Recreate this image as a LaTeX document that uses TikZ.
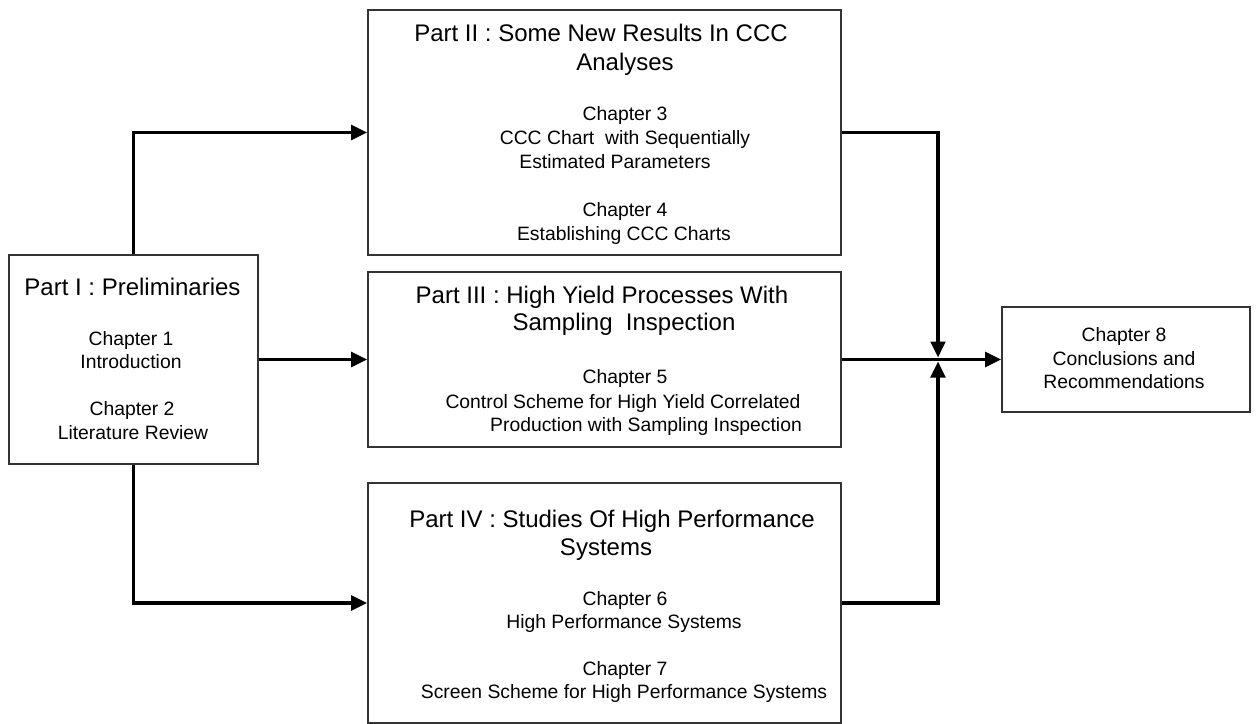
\documentclass[tikz,border=0pt]{standalone}
\usepackage{fontspec}
\setmainfont{Liberation Sans}
\usetikzlibrary{arrows.meta}
\definecolor{boxgray}{HTML}{333333}
\begin{document}
\begin{tikzpicture}[x=0.75pt,y=-0.75pt,
  box/.style={draw=boxgray,line width=1.3pt,inner sep=0pt,fill=white},
  conn/.style={line width=2.4pt,-{Triangle[length=12pt,width=11pt]}},
  ttl/.style={anchor=base,inner sep=0pt,font=\fontsize{18}{21}\selectfont},
  chp/.style={anchor=base,inner sep=0pt,font=\fontsize{14.5}{18}\selectfont}]
\useasboundingbox (0,0) rectangle (1256,724);
% boxes
\node[box,minimum width=186.75pt,minimum height=156.75pt] (I) at (133.5,359.5) {};
\node[box,minimum width=354.75pt,minimum height=183.75pt] (II) at (604.5,132.5) {};
\node[box,minimum width=354.75pt,minimum height=131.25pt] (III) at (604.5,359.5) {};
\node[box,minimum width=354.75pt,minimum height=180pt] (IV) at (604.5,603) {};
\node[box,minimum width=186pt,minimum height=78.75pt] (C8) at (1126,359.5) {};
\coordinate (j) at (938,359.5);
% connectors
\draw[conn] (I.north) |- (II.west);
\draw[conn] (I.east) -- (III.west);
\draw[conn] (I.south) |- (IV.west);
\draw[conn,shorten >=1.5pt] (II.east) -| (j);
\draw[conn,shorten >=1.5pt] (IV.east) -| (j);
\draw[conn] (III.east) -- (C8.west);
% Part I
\node[ttl] (tIa) at (132.5,295) {Part I : Preliminaries};
\node[chp] (tIb) at (131,345) {Chapter 1};
\node[chp] (tIc) at (131,368) {Introduction};
\node[chp] (tId) at (132,415) {Chapter 2};
\node[chp] (tIe) at (133,439) {Literature Review};
% Part II
\node[ttl] (tIIa) at (601,42) {Part II : Some New Results In CCC};
\node[ttl] (tIIb) at (625,70) {Analyses};
\node[chp] (tIIc) at (625,120) {Chapter 3};
\node[chp] (tIId) at (625,144) {CCC Chart \ with Sequentially};
\node[chp] (tIIe) at (615,168) {Estimated Parameters};
\node[chp] (tIIf) at (625,216) {Chapter 4};
\node[chp] (tIIg) at (624,240) {Establishing CCC Charts};
% Part III
\node[ttl] (tIIIa) at (602,303) {Part III : High Yield Processes With};
\node[ttl] (tIIIb) at (624,330) {Sampling \ Inspection};
\node[chp] (tIIIc) at (625,383) {Chapter 5};
\node[chp] (tIIId) at (623,408) {Control Scheme for High Yield Correlated};
\node[chp] (tIIIe) at (646,431) {Production with Sampling Inspection};
% Part IV
\node[ttl] (tIVa) at (612,527) {Part IV : Studies Of High Performance};
\node[ttl] (tIVb) at (606,555) {Systems};
\node[chp] (tIVc) at (625,605) {Chapter 6};
\node[chp] (tIVd) at (624,628) {High Performance Systems};
\node[chp] (tIVe) at (625,675) {Chapter 7};
\node[chp] (tIVf) at (624,698) {Screen Scheme for High Performance Systems};
% Chapter 8
\node[chp] (t8a) at (1124,341) {Chapter 8};
\node[chp] (t8b) at (1124,365) {Conclusions and};
\node[chp] (t8c) at (1124,388) {Recommendations};
\end{tikzpicture}
\end{document}
